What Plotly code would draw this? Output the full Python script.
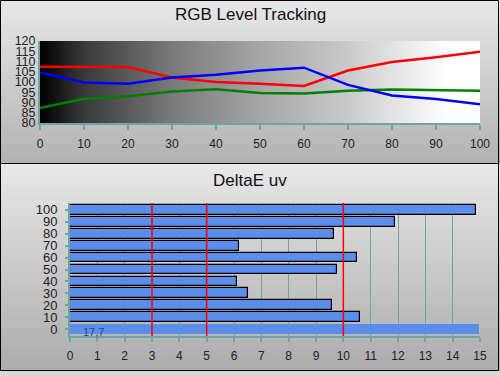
import base64, struct, zlib
import plotly.graph_objects as go

# ---------------- data ----------------
levels = [0, 10, 20, 30, 40, 50, 60, 70, 80, 90, 100]
red_vals = [107.5, 107.5, 107.3, 102.2, 100.0, 99.1, 98.1, 105.6, 109.8, 112.1, 114.8]
green_vals = [87.3, 91.8, 93.0, 95.4, 96.5, 94.6, 94.4, 95.7, 96.4, 96.0, 95.7]
blue_vals = [104.6, 99.8, 99.1, 102.2, 103.5, 105.6, 107.0, 98.6, 93.4, 91.7, 89.2]

de_levels = [0, 10, 20, 30, 40, 50, 60, 70, 80, 90, 100]
de_vals = [17.7, 10.6, 9.6, 6.5, 6.1, 9.75, 10.5, 6.2, 9.65, 11.9, 14.85]
thresholds = [3, 5, 10]
de_max = 15

TEAL = "#6fa5a0"
FONT = "Liberation Sans, Arial, sans-serif"
W, H = 500, 376


def grad_png(top, bottom, n=200):
    rows = b""
    for i in range(n):
        t = i / (n - 1)
        c = [int(round(top[k] + (bottom[k] - top[k]) * t)) for k in range(3)]
        rows += b"\x00" + bytes(c)
    def chunk(tag, data):
        return struct.pack(">I", len(data)) + tag + data + struct.pack(">I", zlib.crc32(tag + data) & 0xffffffff)
    png = b"\x89PNG\r\n\x1a\n"
    png += chunk(b"IHDR", struct.pack(">IIBBBBB", 1, n, 8, 2, 0, 0, 0))
    png += chunk(b"IDAT", zlib.compress(rows))
    png += chunk(b"IEND", b"")
    return "data:image/png;base64," + base64.b64encode(png).decode()


def py(p):  # pixel y -> paper y
    return 1 - p / H


def px(p):
    return p / W


fig = go.Figure()

# top plot-area gradient (black -> white)
gx = list(range(0, 101, 2))
fig.add_trace(go.Heatmap(
    x=gx, y=[80, 120], z=[gx, gx], xaxis="x", yaxis="y",
    colorscale=[[0, "#000000"], [0.1, "#3a3a3a"], [0.3, "#7a7a7a"], [0.5, "#a6a6a6"],
                [0.7, "#cacaca"], [0.85, "#eeeeee"], [0.93, "#ffffff"], [1, "#ffffff"]],
    showscale=False, hoverinfo="skip", zsmooth="best"))

for vals, col in [(red_vals, "#ff0000"), (green_vals, "#008000"), (blue_vals, "#0000ff")]:
    fig.add_trace(go.Scatter(x=levels, y=vals, mode="lines", xaxis="x", yaxis="y",
                             line=dict(color=col, width=2.5), showlegend=False, cliponaxis=True))

# bottom bars (values above the axis maximum are drawn stopped just at the axis end)
fig.add_trace(go.Bar(
    x=[min(v, de_max - 0.02) for v in de_vals], y=de_levels, orientation="h", xaxis="x2",
    yaxis="y2", width=8.3,
    marker=dict(color="#5b8dea", line=dict(color="#000000", width=[0] + [1.2] * 10)),
    showlegend=False, hoverinfo="skip"))

shapes = []
for t in thresholds:
    shapes.append(dict(type="line", xref="x2", yref="y2 domain", x0=t, x1=t, y0=0, y1=1,
                       line=dict(color="#ff0000", width=1.5), layer="above"))
# panel borders
shapes.append(dict(type="rect", xref="paper", yref="paper", x0=px(0.5), x1=px(498.5),
                   y0=py(163.5), y1=py(0.5), line=dict(color="#000", width=1)))
shapes.append(dict(type="rect", xref="paper", yref="paper", x0=px(0.5), x1=px(498.5),
                   y0=py(370.5), y1=py(163.5), line=dict(color="#000", width=1)))

images = [
    dict(source=grad_png((232, 232, 232), (178, 178, 178)), xref="paper", yref="paper",
         x=0, y=1, sizex=1, sizey=164 / H, sizing="stretch", layer="below", xanchor="left", yanchor="top"),
    dict(source=grad_png((232, 232, 232), (172, 172, 172)), xref="paper", yref="paper",
         x=0, y=py(164), sizex=1, sizey=(371 - 164) / H, sizing="stretch", layer="below",
         xanchor="left", yanchor="top"),
    dict(source=grad_png((215, 215, 215), (215, 215, 215)), xref="paper", yref="paper",
         x=0, y=py(371), sizex=1, sizey=5 / H, sizing="stretch", layer="below",
         xanchor="left", yanchor="top"),
]

annotations = [
    dict(text="RGB Level Tracking", xref="paper", yref="paper", x=0.5, y=py(15), showarrow=False,
         yanchor="middle", font=dict(family=FONT, size=17, color="#111")),
    dict(text="DeltaE uv", xref="paper", yref="paper", x=0.5, y=py(180), showarrow=False,
         yanchor="middle", font=dict(family=FONT, size=17, color="#111")),
    dict(text=str(de_vals[0]).replace(".", ","), xref="x2", yref="y2", x=0.4, y=0,
         xanchor="left", yanchor="middle", showarrow=False, yshift=-3,
         font=dict(family=FONT, size=11, color="#2b4870")),
]

tickfont = dict(family=FONT, size=12, color="#222")

fig.update_layout(
    width=W, height=H, margin=dict(l=0, r=0, t=0, b=0, autoexpand=False),
    paper_bgcolor="#d0d0d0", plot_bgcolor="#ffffff",
    showlegend=False, bargap=0,
    xaxis=dict(domain=[px(40), px(480)], range=[0, 100], tickvals=levels, ticks="outside",
               ticklen=5, tickwidth=2, tickcolor=TEAL, showline=True, linecolor=TEAL, linewidth=2,
               showgrid=False, zeroline=False, tickfont=tickfont, ticklabelstandoff=4, anchor="y",
               automargin=False),
    yaxis=dict(domain=[py(123), py(41)], range=[80, 120], dtick=5, showgrid=True, gridcolor=TEAL,
               gridwidth=1.5, showline=True, linecolor=TEAL, linewidth=2, zeroline=False,
               ticks="", tickfont=dict(family=FONT, size=12.5, color="#222"), ticklabelstandoff=0,
               anchor="x", automargin=False),
    xaxis2=dict(domain=[px(70), px(480)], range=[0, de_max], dtick=1, ticks="outside", ticklen=4,
                tickwidth=2, tickcolor=TEAL, showline=True, linecolor=TEAL, linewidth=2,
                showgrid=True, gridcolor=TEAL, gridwidth=1, zeroline=False, tickfont=tickfont,
                ticklabelstandoff=4, anchor="y2", automargin=False),
    yaxis2=dict(domain=[py(336), py(203)], range=[-5.5, 105.5], tickvals=de_levels,
                ticktext=[str(v) for v in de_levels], ticks="outside", ticklen=3, tickwidth=2,
                tickcolor=TEAL, showline=True, linecolor=TEAL, linewidth=2, showgrid=False,
                zeroline=False, tickfont=dict(family=FONT, size=13, color="#222"),
                ticklabelstandoff=5, anchor="x2", automargin=False),
    shapes=shapes, images=images, annotations=annotations,
)

fig.write_html("out.html", config={"displayModeBar": False},
               post_script="document.body.style.margin='0';document.body.style.overflow='hidden';")
